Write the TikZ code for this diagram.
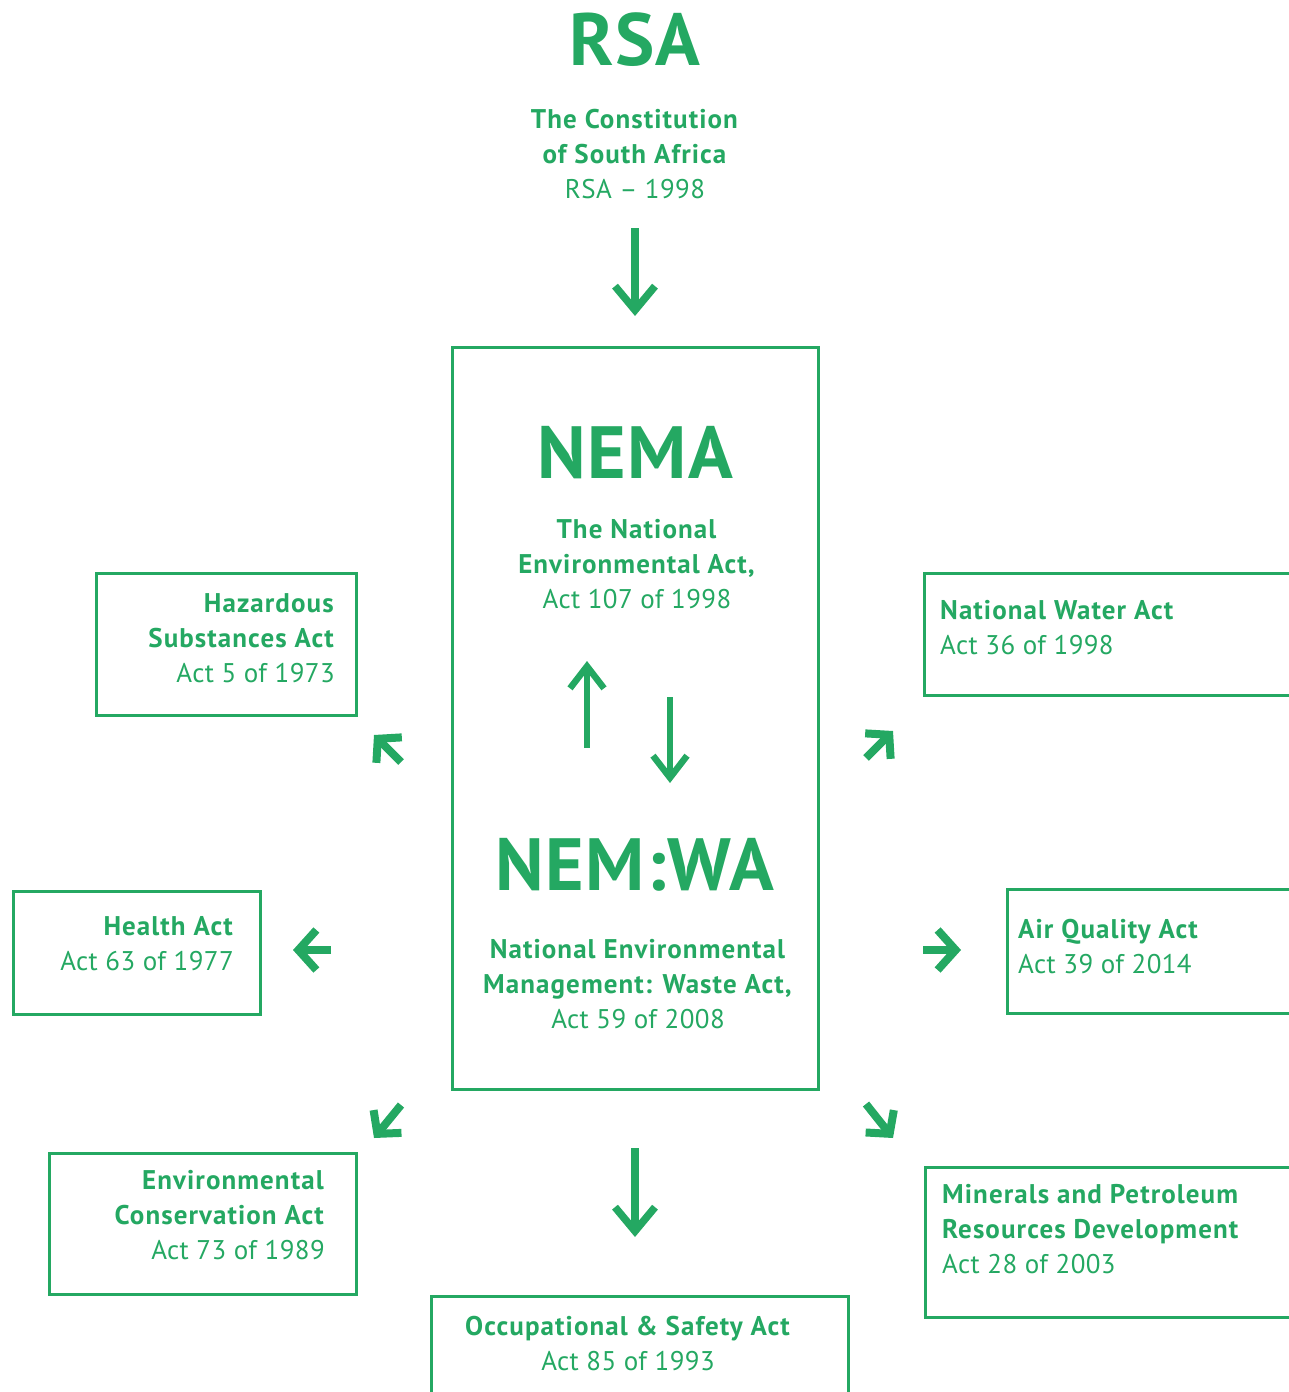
\documentclass[tikz,border=0pt]{standalone}
\usepackage{fontspec}
\setmainfont{PT Sans}[UprightFeatures={LetterSpace=1.5},BoldFeatures={LetterSpace=4}]
\newfontfamily\bigfont{PT Sans}[LetterSpace=2]
\usetikzlibrary{arrows.meta}
\definecolor{g}{RGB}{36,168,98}
\begin{document}
\begin{tikzpicture}[x=1pt,y=-1pt,
  box/.style={draw=g,line width=3pt,inner sep=0pt,anchor=north west},
  big/.style={text=g,font=\bigfont\bfseries\fontsize{74}{74}\selectfont,anchor=base,inner sep=0pt},
  lbl/.style={text=g,inner sep=0pt,font=\fontsize{27}{35}\selectfont},
  arr/.style={draw=g,line width=7.5pt,-{Straight Barb[length=24pt,width=40pt]}},
  marr/.style={draw=g,line width=6.5pt,-{Straight Barb[length=22pt,width=34pt]}},
  sarr/.style={draw=g,line width=8pt,-{Straight Barb[length=18pt,width=40pt]}},
  darr/.style={draw=g,line width=8pt,-{Straight Barb[length=16pt,width=36pt]}}
]
\useasboundingbox (0,0) rectangle (1289,1392);
\clip (0,0) rectangle (1289,1392);

% titles
\node[big] (rsa) at (635,65) {RSA};
\node[lbl,align=center,anchor=north] (const) at (635,109)
  {\textbf{The Constitution}\\\textbf{of South Africa}\\RSA -- 1998};

% central box
\node[box,minimum width=366pt,minimum height=742pt] (nemabox) at (451,346) {};
\node[big] (nema) at (635,478) {NEMA};
\node[lbl,align=center,anchor=north] (nemat) at (637,519)
  {\textbf{The National}\\\textbf{Environmental Act,}\\Act 107 of 1998};
\node[big] (nemwa) at (635,890) {NEM:WA};
\node[lbl,align=center,anchor=north] (nemwat) at (638,939)
  {\textbf{National Environmental}\\\textbf{Management: Waste Act,}\\Act 59 of 2008};

% side boxes
\node[box,minimum width=260pt,minimum height=142pt] (haz) at (95,572) {};
\node[lbl,align=right,anchor=north east] (hazt) at (335,593)
  {\textbf{Hazardous}\\\textbf{Substances Act}\\Act 5 of 1973};

\node[box,minimum width=420pt,minimum height=122pt] (water) at (923,572) {};
\node[lbl,align=left,anchor=north west] (watert) at (940,600)
  {\textbf{National Water Act}\\Act 36 of 1998};

\node[box,minimum width=247pt,minimum height=123pt] (health) at (12,890) {};
\node[lbl,align=right,anchor=north east] (healtht) at (234,916)
  {\textbf{Health Act}\\Act 63 of 1977};

\node[box,minimum width=340pt,minimum height=124pt] (air) at (1006,888) {};
\node[lbl,align=left,anchor=north west] (airt) at (1018,919)
  {\textbf{Air Quality Act}\\Act 39 of 2014};

\node[box,minimum width=307pt,minimum height=141pt] (env) at (48,1152) {};
\node[lbl,align=right,anchor=north east] (envt) at (325,1170)
  {\textbf{Environmental}\\\textbf{Conservation Act}\\Act 73 of 1989};

\node[box,minimum width=420pt,minimum height=150pt] (min) at (924,1166) {};
\node[lbl,align=left,anchor=north west] (mint) at (942,1184)
  {\textbf{Minerals and Petroleum}\\\textbf{Resources Development}\\Act 28 of 2003};

\node[box,minimum width=417pt,minimum height=160pt] (occ) at (430,1295) {};
\node[lbl,align=center,anchor=north] (occt) at (628,1316)
  {\textbf{Occupational \& Safety Act}\\Act 85 of 1993};

% arrow end points
\coordinate (a1s) at (635,228); \coordinate (a1e) at (635,316);
\coordinate (a2s) at (587,748); \coordinate (a2e) at (587,661);
\coordinate (a3s) at (670,697); \coordinate (a3e) at (670,783);
\coordinate (a4s) at (635,1148); \coordinate (a4e) at (635,1237);
\coordinate (hls) at (331,950); \coordinate (hle) at (293,950);
\coordinate (ars) at (923,950); \coordinate (are) at (961,950);
\coordinate (nws) at (401,762); \coordinate (nwe) at (374,735);
\coordinate (nes) at (866,758); \coordinate (nee) at (893,731);
\coordinate (sws) at (401,1105); \coordinate (swe) at (374,1138);
\coordinate (ses) at (866,1104); \coordinate (see) at (893,1138);

\draw[arr] (a1s) -- (a1e);
\draw[marr] (a2s) -- (a2e);
\draw[marr] (a3s) -- (a3e);
\draw[arr] (a4s) -- (a4e);
\draw[sarr] (hls) -- (hle);
\draw[sarr] (ars) -- (are);
\draw[darr] (nws) -- (nwe);
\draw[darr] (nes) -- (nee);
\draw[darr] (sws) -- (swe);
\draw[darr] (ses) -- (see);
\end{tikzpicture}
\end{document}
